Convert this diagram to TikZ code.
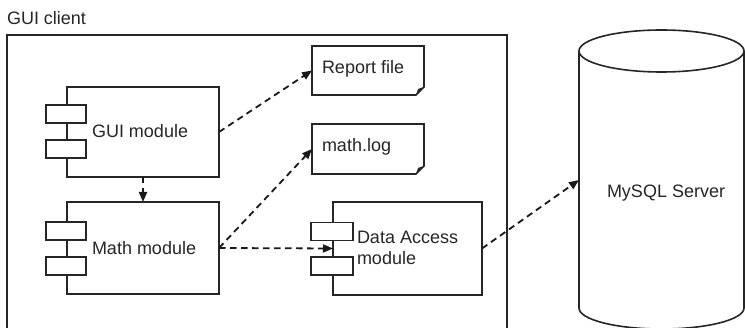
\documentclass[tikz,border=0pt]{standalone}
\usepackage{fontspec}
\setmainfont{Liberation Sans}
\usetikzlibrary{arrows.meta}
\begin{document}
\begin{tikzpicture}[x=1pt,y=-1pt,
  every node/.style={inner sep=0pt, outer sep=0pt},
  ln/.style={line width=1.6pt, draw=black!85},
  module/.style={ln, rectangle, fill=white},
  port/.style={ln, rectangle, fill=white, minimum height=18pt},
  txt/.style={anchor=base west, font=\fontsize{18}{21}\selectfont, text=black!85},
  dep/.style={line width=1.8pt, draw=black!90, dash pattern=on 6.5pt off 4.5pt, -{Triangle[length=10pt,width=8pt]}},
  hidden/.style={rectangle, draw=none}
]
\useasboundingbox[fill=white] (0,0) rectangle (745,328);

% frame
\node[ln, rectangle, minimum width=500pt, minimum height=300pt] (client) at (257,185) {};
\node[txt] (clientlbl) at (7,25) {GUI client};

% modules
\node[module, minimum width=152pt, minimum height=90pt] (gui) at (143,132) {};
\node[port, minimum width=40pt] (guip1) at (66,114) {};
\node[port, minimum width=40pt] (guip2) at (66,149) {};
\node[txt] (guit) at (92,138) {GUI module};

\node[module, minimum width=152pt, minimum height=92pt] (math) at (143,248) {};
\node[port, minimum width=40pt] (mathp1) at (66,231) {};
\node[port, minimum width=40pt] (mathp2) at (66,266) {};
\node[txt] (matht) at (92,255) {Math module};

\node[module, minimum width=149pt, minimum height=93pt] (data) at (407.5,248.5) {};
\node[port, minimum width=42pt] (datap1) at (332,231.5) {};
\node[port, minimum width=42pt] (datap2) at (332,266) {};
\node[txt] (datat1) at (357,244) {Data Access};
\node[txt] (datat2) at (357,265) {module};

% notes
\node[hidden, minimum width=112pt, minimum height=49pt] (rep) at (368,70.5) {};
\node[hidden, minimum width=112pt, minimum height=50pt] (log) at (368,149) {};
\foreach \n in {rep,log}{
  \draw[ln, line join=miter] (\n.north west) -- (\n.north east) -- ([yshift=8pt]\n.south east)
     -- ([xshift=-8pt]\n.south east) -- (\n.south west) -- cycle;
  \fill[black!85] ([yshift=8pt]\n.south east) -- ([xshift=-8pt]\n.south east)
     -- ([xshift=-6pt,yshift=6pt]\n.south east) -- cycle;
}
\node[txt] (rept) at (322,74) {Report file};
\node[txt] (logt) at (322,152) {math.log};

% database cylinder
\node[hidden, minimum width=165pt, minimum height=300pt] (db) at (661.5,180) {};
\draw[ln] (661.5,51) ellipse [x radius=82.5pt, y radius=21pt];
\draw[ln] (579,51) -- (579,308) arc[start angle=180, end angle=360, x radius=82.5pt, y radius=21pt] -- (744,51);
\node[txt] (dbt) at (607,198) {MySQL Server};

% dependencies
\draw[dep] (gui.east) -- (rep.west);
\draw[dep] (gui.south) -- (math.north);
\draw[dep] (math.east) -- (log.west);
\draw[dep] (math.east) -- (data.west);
\draw[dep] (data.east) -- (db.west);
\end{tikzpicture}
\end{document}
